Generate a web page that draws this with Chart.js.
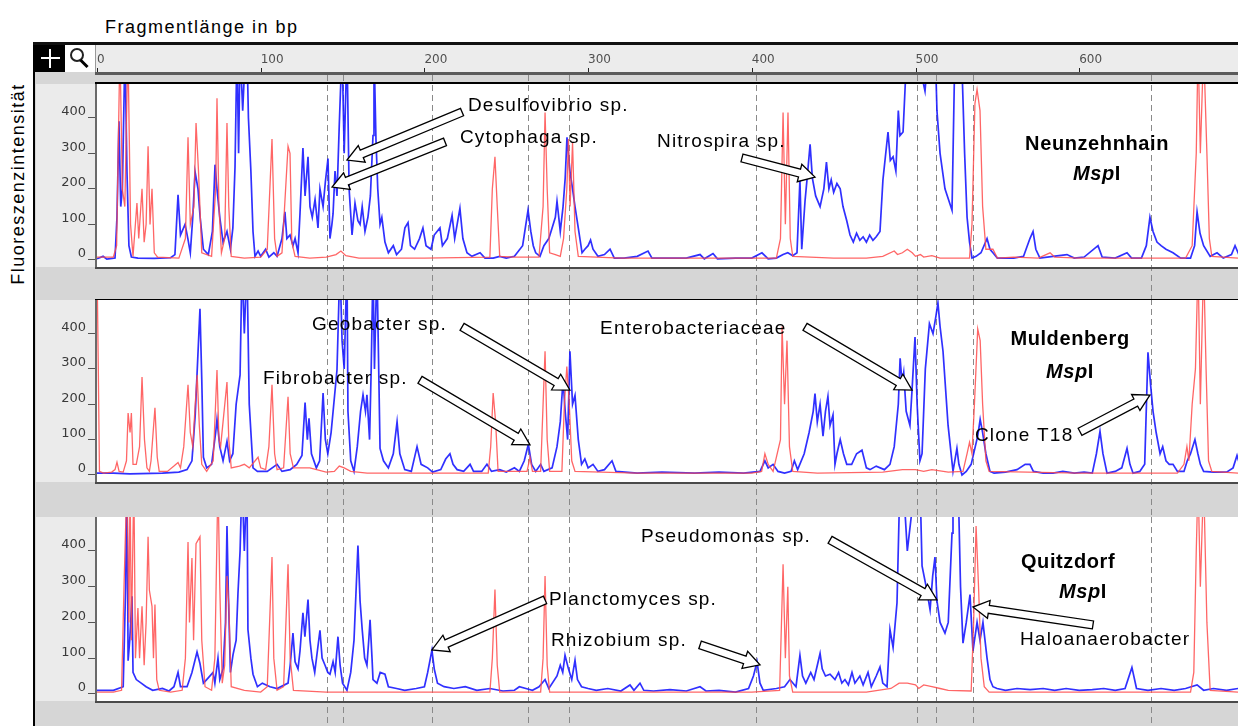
<!DOCTYPE html>
<html>
<head>
<meta charset="utf-8">
<title>T-RFLP MspI</title>
<script src="https://cdn.jsdelivr.net/npm/chart.js@4.4.1/dist/chart.umd.min.js"></script>
<style>
  body { margin: 0; width: 1238px; height: 726px; overflow: hidden; background: #fff; position: relative;
         font-family: 'Liberation Sans', Arial, sans-serif; }
  #frame { position: absolute; left: 35px; top: 45px; width: 1203px; height: 681px; background: #d6d6d6; }
  .edge-v { position: absolute; left: 33px; top: 42px; width: 2px; height: 684px; background: #000; }
  .edge-h { position: absolute; left: 33px; top: 42px; width: 1205px; height: 3px; background: #111; }
  canvas { position: absolute; left: 35px; }
  #xTitle { position: absolute; left: 105px; top: 18px; font-size: 18px; line-height: 18px; letter-spacing: 1.5px; }
  #yTitle { position: absolute; left: -92px; top: 173px; width: 220px; height: 22px; line-height: 22px;
            text-align: center; font-size: 18px; letter-spacing: 1.5px; transform: rotate(-90deg); }
  .tool { position: absolute; top: 45px; width: 30px; height: 27px; z-index: 2; }
  #plus { left: 35px; background: #000; }
  #plus .h { position: absolute; left: 6px; top: 12px; width: 19px; height: 2px; background: #fff; }
  #plus .v { position: absolute; left: 14px; top: 4px; width: 2px; height: 19px; background: #fff; }
  #lens { left: 65px; background: #fff; border-right: 1px solid #999; }
  #lens .glass { position: absolute; left: 5px; top: 3px; width: 10px; height: 10px; border: 2px solid #222; border-radius: 50%; }
  #lens .grip { position: absolute; left: 14px; top: 17px; width: 10px; height: 3px; background: #000; transform: rotate(45deg); }
</style>
</head>
<body>
<div id="xTitle">Fragmentlänge in bp</div>
<div id="yTitle">Fluoreszenzintensität</div>
<div id="frame"></div>
<div class="edge-v"></div>
<div class="edge-h"></div>
<div class="tool" id="plus"><div class="h"></div><div class="v"></div></div>
<div class="tool" id="lens"><div class="glass"></div><div class="grip"></div></div>
<canvas id="neunzehnhain" width="1203" height="254" style="top:45px"></canvas>
<canvas id="muldenberg" width="1203" height="218" style="top:299px"></canvas>
<canvas id="quitzdorf" width="1203" height="209" style="top:517px"></canvas>

<script>
// Axis ticks (fragment length in bp, fluorescence intensity)
const rulerTicks = [0, 100, 200, 300, 400, 500, 600];
const intensityTicks = [0, 100, 200, 300, 400];

// Fragment lengths marked with dashed lines across all three profiles
const markerBp = [140.5, 150.2, 204.6, 263.3, 288.3, 402.6, 500.9, 512.5, 535.1, 643.9];

// Traces as [fragment length bp, intensity]; red = size standard, blue = sample
const neunRed = [
    [0, 8], [10, 8], [12, 40], [14, 600], [15.5, 200], [17, 150], [18.9, 600], [20.5, 100], [22, 10],
    [24.4, 160], [25.5, 60], [27.5, 200], [28.8, 50], [30, 100], [31.2, 320], [32.4, 100], [33.6, 200], [35, 20],
    [37, 8], [50, 5], [54, 60], [55.6, 345], [57, 100], [59.2, 150], [60.5, 385], [62, 250], [64, 20], [70, 10],
    [72.5, 200], [73.3, 455], [74.5, 150], [76, 20], [78, 60], [79.4, 385], [80.5, 150], [82, 10], [90, 5],
    [100, 8], [104, 30], [106.9, 340], [108.5, 60], [110, 10], [113, 20], [116.7, 320], [117.9, 300], [119, 50],
    [121, 10], [130, 5], [140, 8], [146, 15], [149, 25], [152, 12], [160, 5], [200, 5], [240, 8], [241.5, 200],
    [243.1, 290], [244.5, 150], [246, 10], [255, 8], [270, 8], [272.5, 150], [273.7, 415], [275, 200],
    [276.5, 20], [280, 15], [283, 10], [285, 60], [287, 200], [288, 340], [289, 150], [290.5, 330], [292, 80],
    [294, 10], [320, 5], [360, 5], [400, 5], [415, 5], [417.5, 60], [419.1, 415], [420.5, 100], [422.1, 415],
    [423.5, 60], [425, 10], [450, 5], [470, 5], [480, 10], [487, 25], [489, 15], [492, 20], [495, 30], [498, 20],
    [500, 10], [503, 15], [505, 8], [510, 12], [515, 5], [533, 5], [534.5, 100], [536.3, 440], [537.6, 480],
    [539.4, 420], [541, 150], [543, 30], [547.3, 30], [550, 5], [560, 8], [575, 5], [582.2, 20], [585, 8],
    [600, 5], [640, 5], [665, 5], [669, 40], [671.5, 300], [672.6, 600], [674, 300], [676, 600], [678, 300],
    [679.5, 60], [681, 10], [697, 5]
];
const neunBlue = [
    [0, 3], [3.7, 10], [6, 2], [11, 5], [12.2, 120], [13.4, 390], [14.5, 150], [15.5, 200], [17.1, 600],
    [18.3, 250], [19.5, 40], [21, 8], [25, 5], [35, 4], [45, 6], [47.6, 15], [49.5, 183], [51, 70], [53.8, 100],
    [55.5, 60], [57, 20], [58.5, 120], [59.9, 248], [61.7, 200], [63, 120], [65, 30], [68, 15], [70.5, 80],
    [72.1, 268], [73.3, 200], [75, 120], [77, 50], [79.4, 80], [81.5, 30], [83, 90], [84.3, 260], [85.5, 600],
    [86.5, 300], [87.4, 600], [89, 420], [90.4, 560], [91.6, 600], [92.5, 400], [94, 250], [95.3, 80],
    [96.5, 10], [98.4, 25], [100, 10], [103, 30], [105, 8], [108, 20], [110, 10], [113, 60], [114.8, 135],
    [116, 60], [117.9, 70], [119.7, 40], [121, 60], [122.8, 20], [124, 130], [125.8, 315], [127.1, 180],
    [128.9, 290], [130.1, 150], [131.5, 120], [133.2, 170], [135, 90], [136.2, 200], [138.1, 150], [139.5, 220],
    [141.1, 285], [142.3, 60], [143.5, 100], [144.2, 130], [145.4, 250], [146.6, 180], [148, 380], [149.7, 600],
    [151, 300], [152.7, 600], [154, 200], [155.8, 70], [157.6, 160], [159.4, 110], [160.7, 100], [162, 150],
    [163.7, 80], [165.5, 120], [167, 180], [168.6, 350], [169.2, 600], [170.4, 340], [171.5, 200], [172.9, 100],
    [174, 120], [175.9, 50], [178, 20], [181, 40], [183, 15], [186, 30], [188.1, 90], [190, 105], [191.5, 40],
    [194, 30], [197, 60], [199.1, 90], [201, 40], [204, 30], [206, 70], [209.5, 90], [211, 40], [214, 60],
    [216.9, 125], [218.5, 60], [221.7, 145], [223.5, 60], [226, 20], [229, 10], [234, 20], [237, 5], [242, 5],
    [246, 10], [250, 5], [255, 10], [260, 40], [263.3, 140], [265, 80], [266.5, 40], [268, 20], [270.6, 10],
    [273, 40], [276, 60], [278, 90], [280, 120], [281, 165], [283, 80], [284.7, 150], [286, 230], [287.1, 345],
    [288.9, 250], [290.5, 200], [292, 150], [294, 90], [296.3, 20], [298, 30], [300, 40], [301.5, 56], [303, 30],
    [306, 10], [310, 15], [313.4, 30], [316, 5], [322, 5], [330, 10], [336.6, 25], [339, 5], [350, 5], [360, 5],
    [368.4, 15], [371, 3], [376.3, 18], [379, 3], [390, 5], [400, 5], [406.2, 20], [410, 3], [415, 5],
    [419.1, 15], [422, 20], [425, 12], [427.6, 20], [429.4, 225], [430.5, 30], [432.5, 165], [434, 240],
    [435.6, 325], [437, 230], [439, 180], [441.7, 150], [444, 200], [445.6, 275], [447.1, 200], [448.5, 225],
    [450, 190], [452, 215], [454, 200], [455.7, 150], [458, 110], [460, 70], [462, 50], [464, 75], [466, 55],
    [468, 65], [470, 50], [472, 70], [474, 55], [476, 65], [478.3, 80], [480.1, 225], [483.2, 360], [484.6, 280],
    [486.3, 290], [488, 250], [489.5, 420], [490.5, 350], [492.4, 360], [494.8, 600], [500, 600], [505.8, 475],
    [508, 600], [512, 600], [513.1, 420], [515, 300], [518, 200], [522.3, 140], [524.1, 600], [528, 600],
    [530, 300], [531.5, 120], [533, 50], [534.5, 5], [537, 10], [540, 20], [543.7, 60], [545.5, 30], [547.3, 20],
    [550, 5], [560, 5], [566, 10], [569.9, 60], [571.8, 80], [573.5, 30], [576, 5], [584, 10], [592.5, 15],
    [597, 5], [603, 8], [611.5, 40], [614, 8], [622, 5], [629.2, 20], [632, 5], [638, 5], [641, 40],
    [643.2, 120], [645.1, 80], [647.5, 50], [650, 40], [653, 30], [657.3, 20], [662, 5], [668, 5], [670.5, 40],
    [672, 135], [673.8, 75], [676, 40], [680, 10], [684.2, 20], [688, 5], [693, 15], [695.2, 40], [698, 10]
];

const mulRed = [
    [0, 600], [0.8, 300], [1.5, 10], [4, 5], [9, 8], [11, 15], [12.2, 36], [13.5, 10], [16, 8], [18, 40],
    [19, 175], [20.2, 120], [21, 175], [22, 30], [24, 30], [26, 80], [27.5, 277], [29, 100], [30.5, 20], [32, 10],
    [33, 40], [35.4, 190], [36.8, 50], [38, 10], [43, 10], [47, 25], [49.5, 35], [51, 20], [53, 80], [55.6, 255],
    [57, 120], [58.5, 80], [60, 200], [61.2, 283], [62.5, 140], [64, 30], [67, 10], [71, 40], [73.3, 297],
    [74.5, 100], [75.5, 80], [77, 150], [79.4, 263], [80.5, 100], [82, 20], [87, 25], [90, 30], [93, 20],
    [98.4, 50], [100, 20], [103, 15], [105, 80], [106.9, 255], [108.5, 60], [110, 15], [114, 20], [116.7, 221],
    [118, 60], [120, 20], [130, 20], [140, 8], [145, 10], [148, 25], [151, 20], [155, 10], [165, 5], [200, 5],
    [239, 5], [240.5, 80], [242, 232], [243.5, 150], [245, 10], [262.7, 10], [264.5, 50], [266, 10], [271, 10],
    [272.5, 200], [273.7, 350], [275, 100], [276.5, 10], [284, 10], [285.5, 200], [287, 307], [288.5, 200],
    [290, 40], [292, 10], [330, 5], [400, 5], [406, 10], [408, 60], [410, 30], [413, 10], [417.5, 100],
    [418.5, 420], [420, 200], [421.5, 380], [423, 80], [425, 10], [440, 5], [480, 8], [492, 15], [500, 15],
    [505, 10], [510, 15], [520, 8], [529, 10], [531.5, 60], [533, 92], [534.5, 60], [536, 200], [538, 413],
    [539.5, 380], [541, 200], [543, 40], [545, 10], [600, 5], [660, 5], [664, 30], [665.8, 80], [667, 40],
    [669, 200], [671, 300], [672.6, 600], [674, 200], [676, 600], [677.5, 300], [679, 40], [681, 10], [697, 5]
];
const mulBlue = [
    [0, 5], [10, 5], [20, 3], [40, 5], [50, 8], [55, 15], [58, 40], [60, 170], [62.9, 470], [64, 270], [65, 50],
    [67, 20], [70, 30], [72.5, 120], [73.3, 157], [75, 80], [77, 40], [79.4, 95], [81, 40], [83, 60], [85, 200],
    [87.4, 283], [88.6, 600], [90, 400], [91.6, 600], [93, 200], [95.3, 20], [98, 10], [104, 10], [110, 30],
    [113, 10], [118, 15], [122, 30], [125.2, 55], [127.1, 205], [128.5, 100], [129.5, 160], [131, 60], [134, 20],
    [136, 40], [138.1, 232], [139.5, 100], [141, 60], [143, 120], [146.6, 297], [148.4, 600], [149.7, 380],
    [151, 300], [152.7, 600], [153.3, 180], [155, 40], [157, 10], [159, 80], [161, 180], [162.5, 227], [164, 180],
    [164.9, 227], [166.5, 100], [167.5, 300], [168.6, 600], [169.5, 300], [171, 600], [172.9, 75], [175, 40],
    [178, 20], [181, 60], [183.3, 150], [185, 60], [188, 15], [192, 10], [195.5, 80], [198, 30], [202, 20],
    [205, 8], [210, 15], [213, 45], [215.6, 60], [217.5, 30], [220, 15], [224, 10], [227.9, 30], [230, 10],
    [235, 10], [238.2, 30], [241, 10], [246, 15], [250, 8], [255, 20], [258, 10], [261, 40], [263.5, 87],
    [265.5, 30], [268, 10], [271, 30], [273, 10], [278, 20], [281, 80], [283, 150], [284.7, 270], [286, 180],
    [287.5, 100], [288.9, 350], [290.5, 200], [292, 225], [294, 100], [296, 30], [298, 45], [300, 20], [303, 30],
    [306, 10], [310, 15], [314.6, 40], [317, 10], [330, 5], [345, 8], [365, 5], [380, 8], [395, 5], [405, 10],
    [408, 40], [410, 20], [413, 30], [416, 10], [420, 5], [424, 10], [426, 40], [428, 15], [432, 60], [435, 120],
    [437.5, 180], [438.6, 230], [440, 150], [441.7, 200], [443.5, 110], [445, 180], [446.5, 222], [447.8, 140],
    [449.6, 170], [450.8, 30], [452, 60], [454, 100], [456, 60], [458, 30], [461, 30], [464, 60], [467.3, 70],
    [470, 20], [472.2, 15], [476, 25], [481, 15], [484.4, 30], [487, 80], [489.5, 200], [490.6, 330],
    [491.8, 260], [492.8, 290], [494.3, 180], [496.6, 140], [498, 250], [499.7, 390], [501, 200], [502.7, 40],
    [504, 60], [506, 300], [508.5, 428], [510.7, 400], [512.5, 450], [513.7, 487], [515, 420], [516.8, 350],
    [519.9, 140], [522.9, 10], [525.3, 75], [526.5, 30], [528.4, 0], [531, 10], [534, 30], [536.5, 80],
    [538, 110], [539.5, 157], [541, 120], [543, 60], [545.5, 10], [548, 5], [555, 8], [562, 15], [567, 30],
    [569.9, 30], [572, 10], [578, 5], [584, 5], [590, 10], [597, 5], [603, 8], [608, 5], [610.5, 60],
    [612.7, 123], [614.5, 60], [617, 5], [622, 10], [626, 20], [629.2, 75], [631, 30], [632.9, 5], [637, 10],
    [640, 30], [642, 347], [643.7, 250], [645.1, 180], [647, 120], [649.4, 60], [651, 80], [653, 40], [655, 30],
    [657.3, 30], [660, 10], [664, 10], [666, 40], [668, 60], [670.7, 100], [672.5, 60], [674, 30], [676, 10],
    [682, 8], [690, 8], [694, 20], [696.4, 55], [698, 30]
];

const quitRed = [
    [0, 5], [10, 5], [15, 10], [16.5, 300], [18.3, 600], [19.5, 200], [20.2, 600], [21, 150], [22.5, 600],
    [23.5, 100], [25, 240], [26, 100], [27.5, 245], [28.8, 80], [30, 200], [31.2, 440], [32, 290], [33.6, 245],
    [34.5, 100], [35.4, 250], [36.5, 40], [38, 10], [45, 5], [52, 10], [54, 100], [55.6, 425], [56.5, 200],
    [58, 380], [59, 150], [60.5, 420], [62.9, 440], [64, 150], [66, 20], [70, 10], [72, 100], [73.9, 600],
    [75, 300], [76.5, 30], [78, 80], [79.4, 330], [80.5, 250], [82, 20], [90, 10], [100, 5], [104, 20],
    [106.9, 383], [108, 100], [110, 10], [114, 20], [116.7, 363], [118, 100], [120, 10], [140, 5], [240, 5],
    [241.5, 100], [243.1, 292], [244.5, 80], [246, 5], [271, 5], [272.5, 100], [273.7, 330], [275, 80],
    [276.5, 5], [400, 5], [417, 10], [419.1, 363], [420.5, 100], [422, 300], [423, 50], [425, 5], [470, 5],
    [485, 15], [490, 30], [495, 30], [500, 25], [502, 15], [505, 25], [510, 20], [515, 15], [520, 10], [534, 8],
    [535.5, 200], [537, 470], [538.5, 300], [540, 100], [542, 20], [545, 5], [640, 5], [668, 5], [670, 60],
    [671.5, 400], [672.6, 600], [674, 300], [676, 600], [678, 200], [680, 10], [697, 5]
];
const quitBlue = [
    [0, 10], [10, 10], [16, 20], [17.5, 300], [18.3, 600], [19, 93], [20, 150], [21.4, 273], [22, 60], [24, 40],
    [27, 30], [30, 20], [34, 10], [40, 15], [44, 8], [47, 20], [49.5, 60], [51, 20], [55, 20], [58, 60],
    [61.1, 117], [62.9, 85], [65, 30], [67, 40], [70.9, 60], [72, 30], [73.9, 100], [75, 40], [77, 70],
    [78.5, 200], [79.4, 470], [80.2, 290], [81.5, 60], [83.1, 110], [85, 150], [86.1, 280], [87.4, 400],
    [88.6, 600], [90, 400], [91.6, 600], [92.2, 180], [94, 100], [95.3, 55], [98, 20], [101, 30], [105.7, 20],
    [110, 15], [116.7, 30], [118, 80], [119.7, 170], [121, 90], [122.8, 70], [124, 120], [125.8, 227],
    [127, 160], [128.9, 264], [130.1, 150], [131.3, 100], [133, 60], [136.2, 178], [137.5, 100], [139.3, 80],
    [141, 60], [142.3, 55], [144.2, 90], [145.5, 60], [147.2, 160], [148.5, 80], [150, 30], [152.7, 10],
    [155, 60], [157, 150], [159.4, 415], [160.7, 260], [162, 180], [163.5, 100], [164.9, 80], [166, 150],
    [166.8, 207], [168, 100], [168.6, 40], [171, 30], [173, 60], [175.9, 55], [178, 20], [183, 15], [188, 10],
    [195, 15], [200, 20], [202, 60], [204.6, 122], [206, 70], [208, 30], [212, 20], [218, 15], [225, 20],
    [232, 10], [240, 15], [248, 8], [255, 10], [258, 20], [262, 15], [266, 10], [270, 20], [273.7, 40],
    [276, 15], [281, 50], [283, 80], [284.5, 60], [285.9, 108], [288, 70], [290, 40], [292, 94], [293.5, 40],
    [296, 20], [300, 15], [305, 10], [312, 15], [320, 8], [325.6, 25], [328, 10], [331.7, 30], [334, 10],
    [340, 8], [350, 12], [360, 8], [368.4, 20], [372, 8], [380, 10], [390, 5], [398, 15], [401, 50], [403.2, 90],
    [405, 30], [407, 10], [415, 15], [420, 20], [423.3, 40], [427, 20], [429.4, 108], [431, 50], [433, 30],
    [436, 60], [438, 40], [441.7, 113], [443, 70], [445, 50], [447.8, 55], [450.8, 40], [453, 60], [455, 30],
    [456.9, 40], [459, 25], [461.2, 60], [463, 30], [466, 50], [468, 25], [471, 60], [473, 20], [476, 50],
    [478.3, 75], [480, 30], [482.6, 20], [484.4, 180], [486.3, 130], [488.7, 255], [490.5, 600], [492.4, 600],
    [495, 400], [500, 600], [502.7, 600], [504, 358], [506.5, 300], [508.9, 235], [510.5, 330], [511.9, 383],
    [513.1, 260], [515, 200], [518, 170], [520, 200], [522.3, 450], [522.9, 600], [526, 600], [527.5, 300],
    [529, 142], [531, 200], [533.3, 278], [535.1, 120], [537.6, 200], [539.4, 150], [541.2, 200], [543.7, 100],
    [545.5, 40], [547.3, 20], [549.8, 15], [555, 10], [562, 15], [570, 12], [578, 15], [585, 10], [592, 15],
    [600, 10], [608, 12], [615, 15], [622, 10], [628, 15], [632.2, 74], [635, 15], [642, 10], [650, 15],
    [658, 10], [665, 15], [672, 25], [676, 10], [682, 15], [690, 10], [697, 15]
];

// Labelled fragments: text anchor, arrow tail and arrow tip in (bp, intensity)
const neunNotes = [
    { text: 'Desulfovibrio sp.', at: [226.6, 419], tail: [223, 416], tip: [152.7, 281] },
    { text: 'Cytophaga sp.', at: [221.7, 329], tail: [212.6, 332], tip: [143.6, 205] },
    { text: 'Nitrospira sp.', at: [342.1, 318], tail: [394, 287], tip: [438.6, 233] }
];
const mulNotes = [
    { text: 'Geobacter sp.', at: [131.3, 410], tail: [223, 419], tip: [288.9, 240] },
    { text: 'Fibrobacter sp.', at: [101.4, 257], tail: [197.3, 269], tip: [264.5, 85] },
    { text: 'Enterobacteriaceae', at: [307.3, 399], tail: [432.5, 419], tip: [497.9, 240] },
    { text: 'Clone T18', at: [536.3, 96], tail: [600.5, 122], tip: [643.2, 226] }
];
const quitNotes = [
    { text: 'Pseudomonas sp.', at: [332.3, 425], tail: [447.8, 431], tip: [513.1, 263] },
    { text: 'Planctomyces sp.', at: [276.1, 249], tail: [273.7, 263], tip: [204.6, 123] },
    { text: 'Rhizobium sp.', at: [277.3, 134], tail: [368.4, 137], tip: [405, 81] },
    { text: 'Haloanaerobacter', at: [563.8, 137], tail: [608.4, 193], tip: [535.1, 243] }
];

Chart.defaults.font.family = "'DejaVu Sans', sans-serif";

function toPoints(pairs) {
    return pairs.map(function(p) { return { x: p[0], y: p[1] }; });
}

// hollow block arrow from tail to tip
function drawArrow(ctx, x1, y1, x2, y2) {
    const dx = x2 - x1, dy = y2 - y1;
    const len = Math.sqrt(dx * dx + dy * dy);
    const ux = dx / len, uy = dy / len;
    const nx = -uy, ny = ux;
    const head = 16, hw = 9, sw = 4;
    const pts = [[0, -sw], [len - head, -sw], [len - head, -hw], [len, 0], [len - head, hw], [len - head, sw], [0, sw]];
    ctx.beginPath();
    pts.forEach(function(p, i) {
        const px = x1 + ux * p[0] + nx * p[1];
        const py = y1 + uy * p[0] + ny * p[1];
        if (i === 0) ctx.moveTo(px, py); else ctx.lineTo(px, py);
    });
    ctx.closePath();
    ctx.fillStyle = '#fff';
    ctx.fill();
    ctx.lineWidth = 1.3;
    ctx.strokeStyle = '#000';
    ctx.stroke();
}

// frame, ruler, dashed markers, labels and arrows for one profile
const panelDecor = {
    id: 'panelDecor',
    beforeDraw: function(chart, args, opts) {
        const ctx = chart.ctx, a = chart.chartArea, x = chart.scales.x;
        ctx.save();
        ctx.fillStyle = '#ebebeb';
        ctx.fillRect(1, a.top, a.left - 3, a.bottom - a.top);
        ctx.fillStyle = '#fff';
        ctx.fillRect(a.left, a.top, a.right - a.left, a.bottom - a.top);
        if (opts.ruler) {
            ctx.fillStyle = '#ececec';
            ctx.fillRect(60, 0, chart.width - 60, 27);
            ctx.fillStyle = '#5a5a5a';
            ctx.fillRect(60, 27, chart.width - 60, 3);
            ctx.strokeStyle = '#222';
            ctx.lineWidth = 1;
            rulerTicks.forEach(function(v) {
                const px = Math.round(x.getPixelForValue(v)) + 0.5;
                ctx.beginPath();
                ctx.moveTo(px, 23);
                ctx.lineTo(px, 27);
                ctx.stroke();
            });
        }
        ctx.restore();
    },
    beforeDatasetsDraw: function(chart, args, opts) {
        const ctx = chart.ctx, x = chart.scales.x;
        const y0 = opts.ruler ? 30 : 0;
        ctx.save();
        ctx.setLineDash([6, 4]);
        ctx.strokeStyle = '#8a8a8a';
        ctx.lineWidth = 1;
        markerBp.forEach(function(bp) {
            const px = Math.round(x.getPixelForValue(bp)) + 0.5;
            ctx.beginPath();
            ctx.moveTo(px, y0);
            ctx.lineTo(px, chart.height);
            ctx.stroke();
        });
        ctx.restore();
    },
    afterDatasetsDraw: function(chart, args, opts) {
        const ctx = chart.ctx, a = chart.chartArea, x = chart.scales.x, y = chart.scales.y;
        ctx.save();
        // plot frame
        ctx.fillStyle = '#000';
        ctx.fillRect(a.left - 2, a.top - 2, a.right - a.left + 2, 2);
        ctx.fillStyle = '#4a4a4a';
        ctx.fillRect(a.left - 2, a.bottom, a.right - a.left + 2, 2);
        ctx.fillStyle = '#6a6a6a';
        ctx.fillRect(a.left - 2, a.top, 2, a.bottom - a.top);

        // arrows and fragment names
        opts.notes.forEach(function(n) {
            drawArrow(ctx, x.getPixelForValue(n.tail[0]), y.getPixelForValue(n.tail[1]),
                x.getPixelForValue(n.tip[0]), y.getPixelForValue(n.tip[1]));
        });
        ctx.fillStyle = '#000';
        ctx.font = "19px 'Liberation Sans', Arial, sans-serif";
        ctx.letterSpacing = '1.2px';
        ctx.textAlign = 'left';
        ctx.textBaseline = 'alphabetic';
        opts.notes.forEach(function(n) {
            ctx.fillText(n.text, x.getPixelForValue(n.at[0]), y.getPixelForValue(n.at[1]));
        });

        // site name and enzyme
        const s = opts.site;
        ctx.letterSpacing = '0.6px';
        ctx.font = "bold 20px 'Liberation Sans', Arial, sans-serif";
        ctx.textAlign = 'center';
        ctx.fillText(s.name, x.getPixelForValue(s.at[0]), y.getPixelForValue(s.at[1]));
        const italic = "italic bold 20px 'Liberation Sans', Arial, sans-serif";
        const upright = "bold 20px 'Liberation Sans', Arial, sans-serif";
        ctx.font = italic;
        const w1 = ctx.measureText('Msp').width;
        ctx.font = upright;
        const w2 = ctx.measureText('I').width;
        const ex = x.getPixelForValue(s.enzymeAt[0]) - (w1 + w2) / 2;
        const ey = y.getPixelForValue(s.enzymeAt[1]);
        ctx.textAlign = 'left';
        ctx.font = italic;
        ctx.fillText('Msp', ex, ey);
        ctx.font = upright;
        ctx.fillText('I', ex + w1, ey);
        ctx.restore();
    }
};

function makePanel(canvasId, red, blue, cfg) {
    const ctx = document.getElementById(canvasId).getContext('2d');
    return new Chart(ctx, {
        type: 'line',
        data: {
            datasets: [{
                label: 'Standard',
                data: toPoints(red),
                borderColor: 'rgba(255, 75, 75, 0.85)',
                borderWidth: 1.3,
                pointRadius: 0,
                tension: 0,
                clip: 0
            }, {
                label: 'Probe',
                data: toPoints(blue),
                borderColor: 'rgba(25, 25, 255, 0.9)',
                borderWidth: 1.7,
                pointRadius: 0,
                tension: 0,
                clip: 0
            }]
        },
        options: {
            responsive: false,
            animation: false,
            events: [],
            layout: {
                padding: { top: cfg.padTop, bottom: cfg.padBottom, left: 0, right: 0 }
            },
            scales: {
                x: {
                    type: 'linear',
                    position: 'top',
                    min: 0,
                    max: 697,
                    display: cfg.ruler,
                    grid: { display: false, drawTicks: false },
                    border: { display: false },
                    ticks: {
                        align: 'start',
                        padding: 17,
                        maxRotation: 0,
                        autoSkip: false,
                        color: '#505050',
                        font: { size: 12 }
                    },
                    afterBuildTicks: function(scale) {
                        scale.ticks = rulerTicks.map(function(v) { return { value: v }; });
                    },
                    afterFit: function(scale) {
                        // only the top profile carries the bp ruler
                        scale.height = cfg.ruler ? 39 : 0;
                    }
                },
                y: {
                    min: -20,
                    max: 495,
                    grid: { drawOnChartArea: false, drawTicks: true, tickLength: 9, color: '#555' },
                    border: { display: false },
                    ticks: {
                        padding: 2,
                        labelOffset: -6,
                        color: '#3a3a3a',
                        font: { size: 13 }
                    },
                    afterBuildTicks: function(scale) {
                        scale.ticks = intensityTicks.map(function(v) { return { value: v }; });
                    },
                    afterFit: function(scale) {
                        scale.width = 62;
                        // tick labels sit well inside the plot, no extra room needed
                        scale.paddingTop = 0;
                        scale.paddingBottom = 0;
                    }
                }
            },
            plugins: {
                legend: { display: false },
                tooltip: { enabled: false },
                panelDecor: cfg
            }
        },
        plugins: [panelDecor]
    });
}

makePanel('neunzehnhain', neunRed, neunBlue, {
    ruler: true, padTop: 0, padBottom: 32, notes: neunNotes,
    site: { name: 'Neunzehnhain', at: [610.9, 309], enzymeAt: [610.9, 225] }
});
makePanel('muldenberg', mulRed, mulBlue, {
    ruler: false, padTop: 1, padBottom: 35, notes: mulNotes,
    site: { name: 'Muldenberg', at: [594.4, 368], enzymeAt: [594.4, 274] }
});
makePanel('quitzdorf', quitRed, quitBlue, {
    ruler: false, padTop: 0, padBottom: 25, notes: quitNotes,
    site: { name: 'Quitzdorf', at: [593.2, 352], enzymeAt: [602.3, 268] }
});
</script>
</body>
</html>
